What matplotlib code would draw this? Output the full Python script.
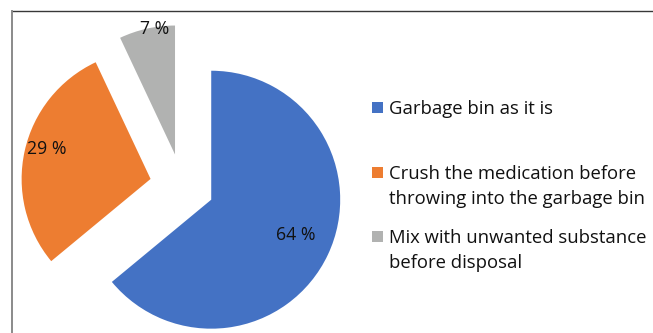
import matplotlib.pyplot as plt
from matplotlib.lines import Line2D
from matplotlib.patches import Rectangle

plt.rcParams['font.family'] = ['Open Sans', 'DejaVu Sans']

labels = ['Garbage bin as it is',
          'Crush the medication before\nthrowing into the garbage bin',
          'Mix with unwanted substance\nbefore disposal']
shares = [64, 29, 7]
pct_text = ['64 %', '29 %', '7 %']
colors = ['#4472C4', '#ED7D31', '#B1B2B1']

W, H = 653, 333
fig = plt.figure(figsize=(W / 100, H / 100), dpi=100)
ax = fig.add_axes([0, 0, 1, 1])

wedges, _ = ax.pie(shares, colors=colors, startangle=90, counterclock=False,
                   explode=[0.25, 0.25, 0.25], radius=1)

# percentage labels near the outer edge
label_pos = [(0.88, -0.38), (-1.05, 0.29), (-0.21, 1.22)]
for (x, y), t in zip(label_pos, pct_text):
    ax.text(x, y, t, ha='center', va='center', fontsize=12.7, color='#111111')

ax.set_xlim(-1.411, 3.651)
ax.set_ylim(-1.140, 1.442)
ax.set_aspect('equal')
ax.axis('off')

# legend drawn by hand so the marker sits on the first line of each entry
first_baseline = [114, 179, 243]  # px from top
line_gap = 25
for w, lab, yb in zip(wedges, labels, first_baseline):
    for k, line in enumerate(lab.split('\n')):
        fig.text(389 / W, 1 - (yb + k * line_gap) / H, line, ha='left', va='baseline',
                 fontsize=13.3, color='#111111')
    fig.add_artist(Rectangle((372 / W, 1 - (yb - 1) / H), 11 / W, 11 / H,
                             transform=fig.transFigure, facecolor=w.get_facecolor(),
                             edgecolor='none'))

# chart frame (top and left edges visible)
fig.add_artist(Line2D([12 / W, 1], [1 - 11 / H, 1 - 11 / H], color='#383838', lw=1))
fig.add_artist(Line2D([12 / W, 12 / W], [0, 1 - 11 / H], color='#8a8a8a', lw=1.4))

fig.savefig('out.png', dpi=100)
